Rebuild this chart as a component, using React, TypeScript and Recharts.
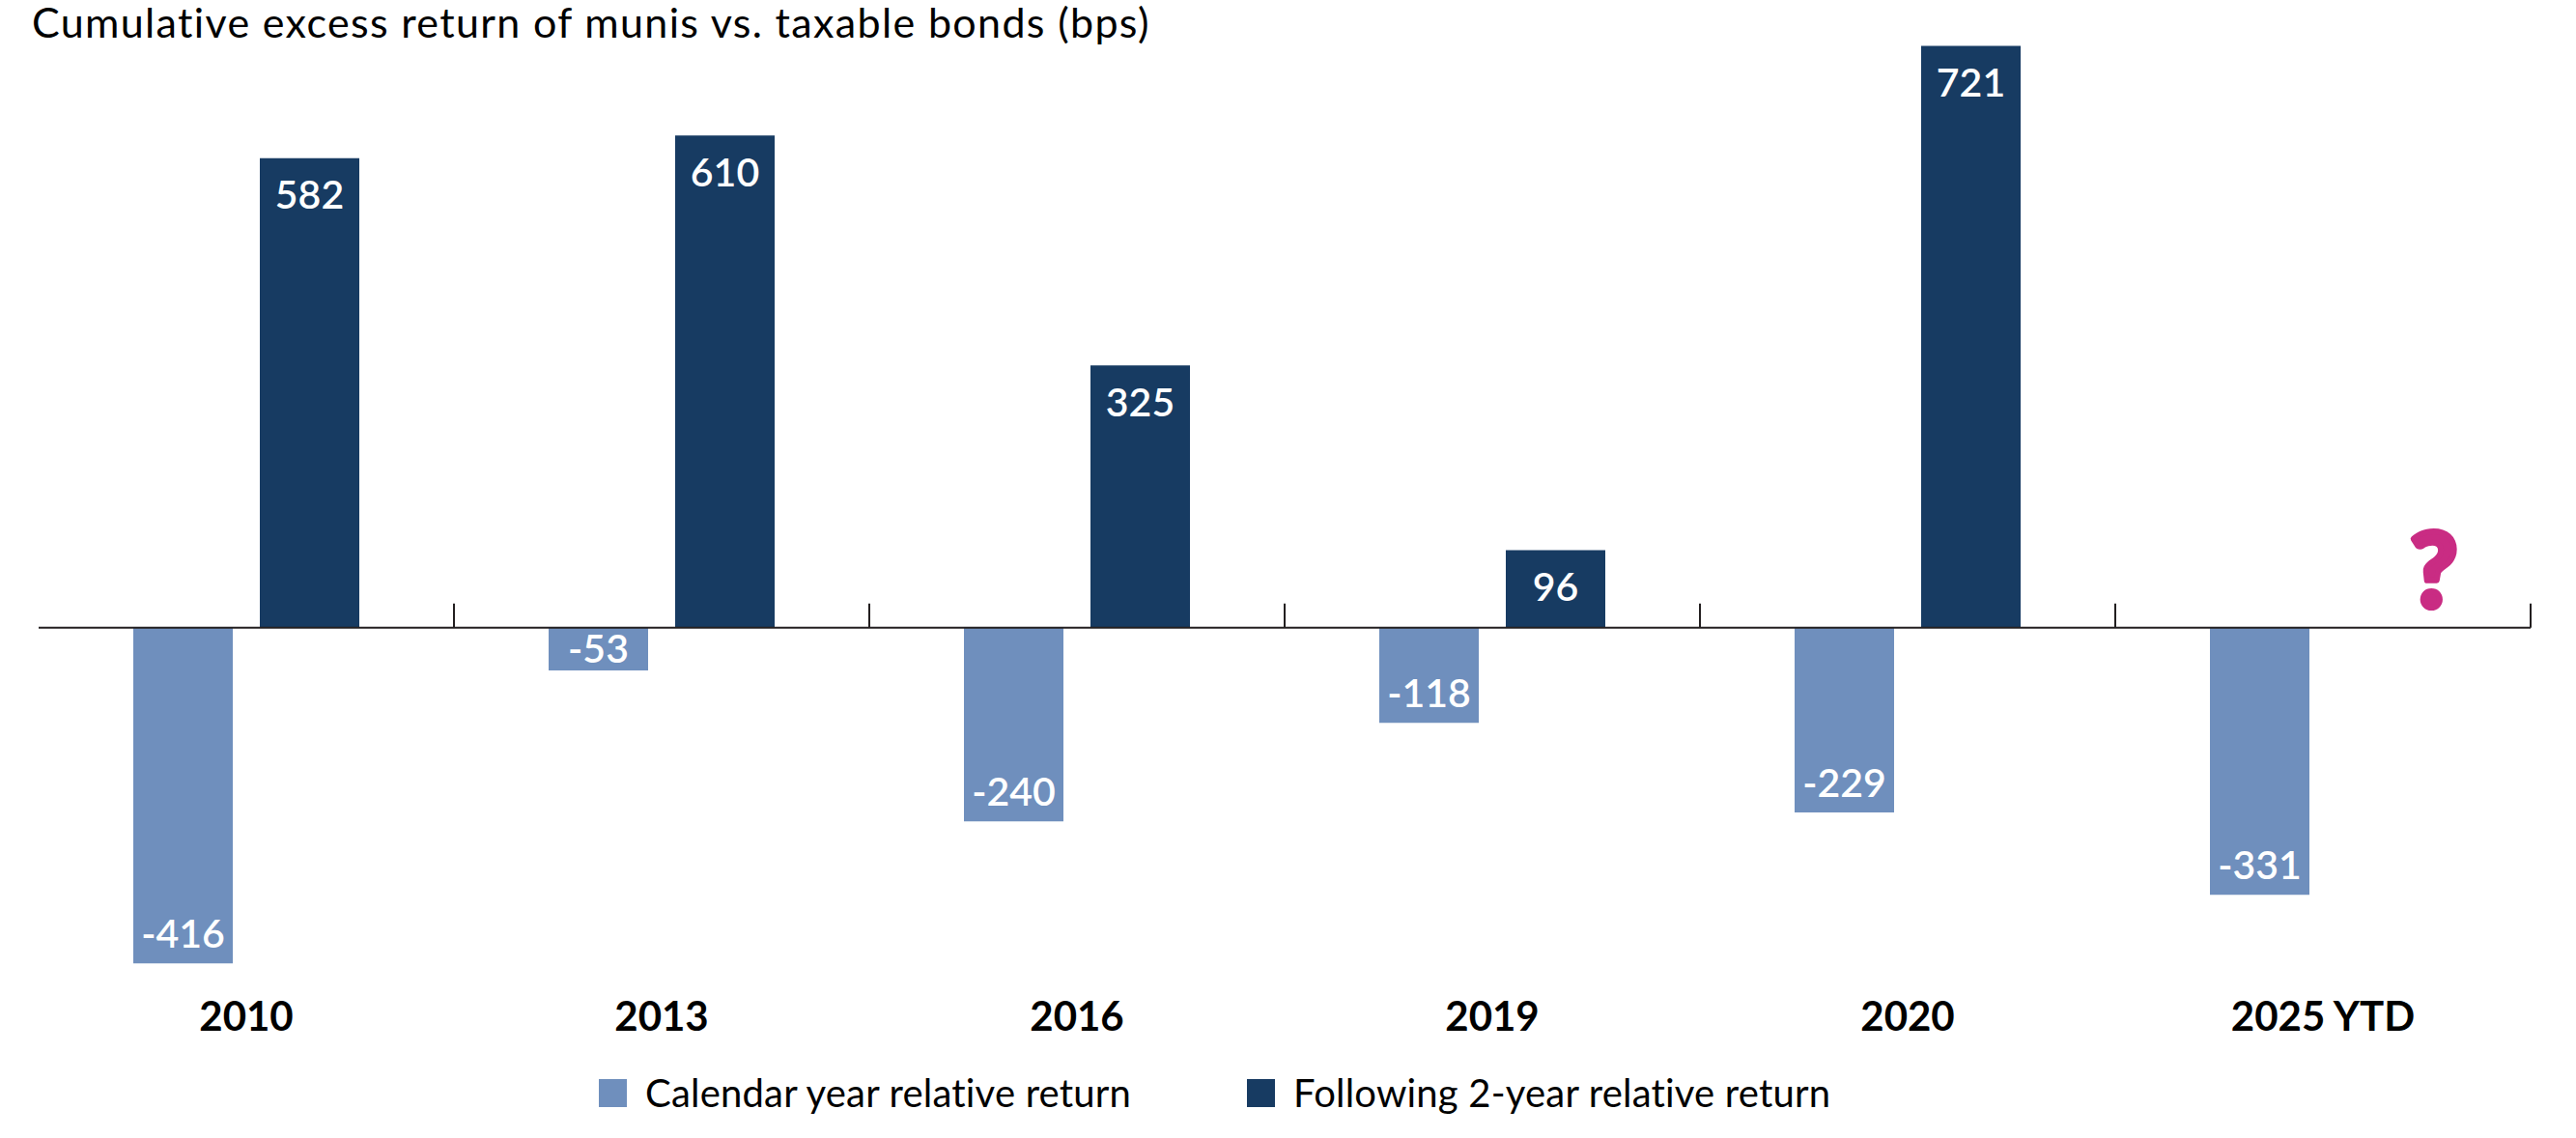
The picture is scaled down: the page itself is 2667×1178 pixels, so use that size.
import { BarChart, Bar, XAxis, YAxis, ReferenceLine, ReferenceDot, LabelList, Legend } from 'recharts';

const title = 'Cumulative excess return of munis vs. taxable bonds (bps)';
const years = ['2010', '2013', '2016', '2019', '2020', '2025 YTD'];
const calendarYear = [-416, -53, -240, -118, -229, -331];
const following2Year: (number | null)[] = [582, 610, 325, 96, 721, null];
const seriesNames = ['Calendar year relative return', 'Following 2-year relative return'];
// small tick marks sit on the zero line at the left edge of these categories
const boundaryTicks = ['2013', '2016', '2019', '2020', '2025 YTD'];
const unknownMark = '?';

const data = years.map((year, i) => ({
  year,
  calendar: calendarYear[i],
  following: following2Year[i],
}));

const FONT = 'Lato, "Open Sans", sans-serif';
const LIGHT = '#6F8FBD';
const DARK = '#173B62';
const AXIS = '#231F20';
const MAGENTA = '#C92C83';

function BarValue(props: any) {
  const vb = props.viewBox && props.viewBox.width != null ? props.viewBox : props;
  const { x, y, width, height } = vb;
  const value = props.value;
  if (value == null || x == null) return null;
  const top = Math.min(y, y + height);
  const bottom = Math.max(y, y + height);
  const mid = (top + bottom) / 2;
  const cy = value >= 0 ? Math.min(top + 38, mid) : Math.max(bottom - 31, mid);
  return (
    <text
      x={x + width / 2}
      y={cy + 14.5}
      textAnchor="middle"
      fill="#fff"
      fontSize={41}
      fontWeight={600}
      fontFamily={FONT}
    >
      {value}
    </text>
  );
}

function LegendContent({ payload }: any) {
  return (
    <div
      style={{
        display: 'flex',
        alignItems: 'center',
        fontFamily: FONT,
        fontSize: 40,
        letterSpacing: 0.2,
        color: '#000',
        whiteSpace: 'nowrap',
      }}
    >
      {(payload || []).map((p: any, i: number) => (
        <div key={p.value} style={{ display: 'flex', alignItems: 'center', marginRight: i === 0 ? 120 : 0 }}>
          <span style={{ display: 'inline-block', width: 29, height: 29, background: p.color, marginRight: 19 }} />
          <span>{p.value}</span>
        </div>
      ))}
    </div>
  );
}

function QuestionMark(props: any) {
  const vb = props.viewBox || {};
  return (
    <text
      x={vb.x + 115}
      y={vb.y - 22}
      textAnchor="middle"
      fill={MAGENTA}
      stroke={MAGENTA}
      strokeWidth={6}
      strokeLinejoin="round"
      fontSize={106}
      fontWeight={900}
      fontFamily={FONT}
    >
      {unknownMark}
    </text>
  );
}

export default function App() {
  const last = years[years.length - 1];
  return (
    <div style={{ position: 'relative', width: 2667, height: 1178, background: '#fff' }}>
      <style>{'body{margin:0}'}</style>
      <div
        style={{
          position: 'absolute',
          left: 33,
          top: -2,
          fontFamily: FONT,
          fontSize: 43,
          letterSpacing: 1.35,
          lineHeight: '50px',
          color: '#000',
          zIndex: 1,
          whiteSpace: 'nowrap',
        }}
      >
        {title}
      </div>
      <BarChart
        width={2667}
        height={1178}
        data={data}
        margin={{ top: 15, right: 47, bottom: 84, left: 40 }}
        barCategoryGap={98}
        barGap={28}
      >
        <XAxis
          dataKey="year"
          axisLine={false}
          tickLine={false}
          tickSize={0}
          tickMargin={3}
          height={60}
          interval={0}
          tick={{ fill: '#000', fontSize: 42, fontWeight: 700, fontFamily: FONT }}
        />
        <YAxis hide domain={[-460, 760]} />
        <Legend
          layout="horizontal"
          verticalAlign="middle"
          align="center"
          content={<LegendContent />}
          wrapperStyle={{ left: 620, top: 1107, bottom: 'auto', width: 'auto' }}
        />
        <Bar dataKey="calendar" name={seriesNames[0]} fill={LIGHT} isAnimationActive={false}>
          <LabelList dataKey="calendar" content={<BarValue />} />
        </Bar>
        <Bar dataKey="following" name={seriesNames[1]} fill={DARK} isAnimationActive={false}>
          <LabelList dataKey="following" content={<BarValue />} />
        </Bar>
        <ReferenceLine y={0} stroke={AXIS} strokeWidth={2} />
        {boundaryTicks.map((c) => (
          <ReferenceLine
            key={c}
            segment={[{ x: c, y: 0 }, { x: c, y: 30 }]}
            position="start"
            stroke={AXIS}
            strokeWidth={2}
          />
        ))}
        <ReferenceLine
          segment={[{ x: last, y: 0 }, { x: last, y: 30 }]}
          position="end"
          stroke={AXIS}
          strokeWidth={2}
        />
        <ReferenceDot x={last} y={0} r={0} fill="none" stroke="none" label={<QuestionMark />} />
      </BarChart>
    </div>
  );
}
